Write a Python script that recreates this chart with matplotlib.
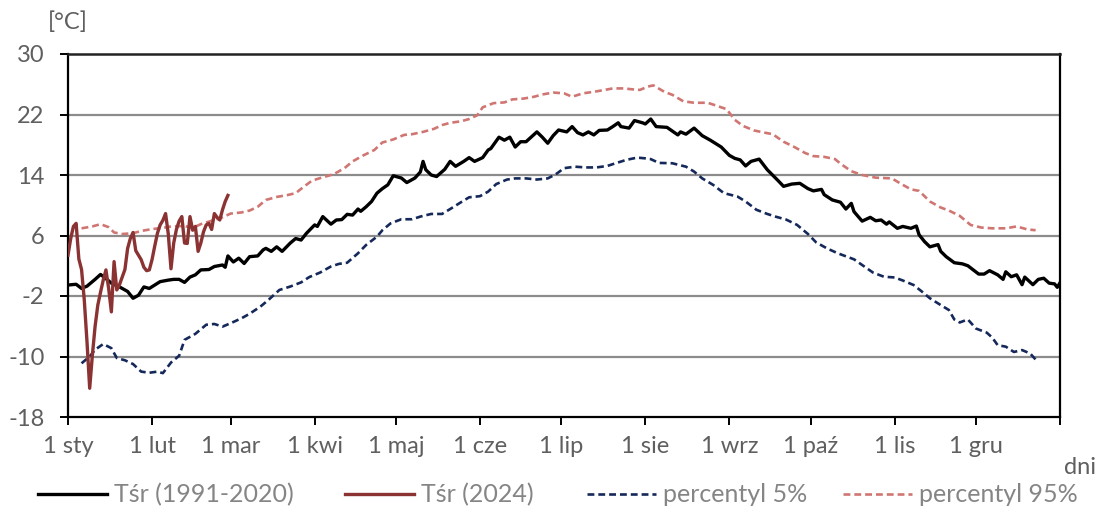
import matplotlib
matplotlib.use("Agg")
import matplotlib.pyplot as plt
from matplotlib.lines import Line2D

# ---------------- data (day of year, value in °C) ----------------
mean_days = [0, 3, 5, 7, 10, 12, 14, 16, 19, 22, 24, 26, 28, 30, 34, 37, 39, 41, 43, 45,
             47, 49, 52, 54, 57, 58, 59, 61, 63, 65, 67, 70, 72, 73, 75, 77, 79, 82, 84, 86,
             88, 91, 92, 94, 97, 99, 101, 103, 105, 107, 108, 110, 112, 114, 116, 118, 120, 123, 125, 128,
             130, 131, 132, 134, 136, 139, 141, 143, 146, 148, 150, 153, 155, 156, 159, 161, 163, 165, 167, 169,
             173, 175, 177, 179, 181, 184, 186, 188, 190, 192, 194, 196, 199, 201, 203, 204, 207, 209, 212, 213,
             215, 217, 221, 225, 226, 228, 231, 234, 237, 241, 244, 246, 248, 250, 252, 255, 258, 262, 264, 267,
             270, 273, 275, 278, 279, 282, 285, 287, 289, 290, 293, 296, 298, 300, 302, 303, 306, 308, 311, 313,
             314, 316, 318, 321, 322, 324, 327, 330, 332, 334, 336, 338, 340, 343, 345, 346, 348, 350, 352, 353,
             356, 358, 360, 362, 364, 365, 366]
mean_vals = [-0.55, -0.45, -1.0, -0.7, 0.2, 0.85, 0.3, -0.3, -0.8, -1.4, -2.3, -1.9, -0.8, -1.0, -0.1, 0.1, 0.2, 0.2, -0.2, 0.5,
             0.8, 1.45, 1.5, 1.9, 2.1, 1.8, 3.3, 2.5, 3.0, 2.3, 3.2, 3.3, 4.1, 4.3, 3.9, 4.5, 3.9, 5.0, 5.6, 5.4,
             6.3, 7.4, 7.2, 8.5, 7.5, 8.05, 8.1, 8.8, 8.7, 9.5, 9.2, 9.8, 10.5, 11.6, 12.2, 12.7, 13.9, 13.6, 13.0, 13.6,
             14.4, 15.8, 14.7, 14.0, 13.8, 14.75, 15.8, 15.15, 15.8, 16.3, 15.8, 16.3, 17.3, 17.5, 19.0, 18.6, 19.0, 17.7, 18.4, 18.4,
             19.7, 19.0, 18.2, 19.2, 19.95, 19.7, 20.4, 19.6, 19.3, 19.7, 19.3, 19.9, 19.95, 20.4, 20.9, 20.4, 20.2, 21.2, 20.9, 20.75,
             21.4, 20.4, 20.3, 19.3, 19.7, 19.4, 20.2, 19.2, 18.6, 17.7, 16.6, 16.2, 16.0, 15.2, 15.8, 16.1, 14.7, 13.25, 12.5, 12.8,
             12.9, 12.2, 11.9, 12.1, 11.4, 10.7, 10.4, 9.5, 10.25, 9.15, 7.9, 8.4, 7.95, 8.05, 7.5, 7.8, 6.95, 7.2, 6.95, 7.25,
             6.1, 5.2, 4.5, 4.8, 3.9, 3.2, 2.4, 2.25, 2.0, 1.45, 0.9, 0.9, 1.35, 0.8, 0.2, 1.2, 0.55, 0.8, -0.5, 0.5,
             -0.5, 0.2, 0.35, -0.3, -0.4, -0.85, -0.25]

y2024_days = list(range(0, 60))
y2024_vals = [3.4, 5.6, 7.2, 7.6, 2.9, 1.5, -2.5, -8.0, -14.2, -9.8,
              -6.0, -3.2, -1.5, 0.1, 1.45, -1.0, -4.1, 2.55, -1.2, -0.5,
              0.5, 1.5, 4.3, 5.6, 6.4, 4.0, 3.4, 2.8, 1.8, 1.35,
              1.45, 2.8, 4.6, 6.3, 7.4, 8.0, 8.9, 6.2, 1.6, 5.0,
              6.8, 7.9, 8.5, 5.0, 4.95, 8.5, 6.7, 7.2, 3.9, 5.0,
              6.5, 7.4, 7.6, 6.8, 8.9, 8.4, 8.05, 9.4, 10.5, 11.3]

p95_days = [5, 9, 12, 15, 17, 20, 24, 27, 31, 35, 38, 43, 46, 49, 53, 57, 60, 64, 67, 70,
            73, 77, 81, 84, 87, 90, 94, 98, 102, 105, 109, 113, 116, 120, 124, 127, 131, 135, 138, 141,
            145, 148, 151, 153, 157, 161, 164, 168, 172, 175, 179, 183, 186, 190, 194, 198, 201, 205, 209, 211,
            214, 216, 220, 223, 227, 231, 236, 239, 243, 246, 249, 253, 257, 260, 264, 268, 272, 275, 279, 283,
            285, 289, 293, 298, 304, 307, 311, 314, 318, 322, 325, 329, 333, 337, 341, 346, 350, 354, 357]
p95_vals = [6.95, 7.2, 7.5, 7.1, 6.4, 6.2, 6.3, 6.6, 6.85, 7.0, 7.2, 7.25, 7.0, 7.5, 7.95, 8.4, 8.9, 9.05, 9.3, 9.8,
            10.7, 11.1, 11.35, 11.6, 12.45, 13.25, 13.7, 14.1, 14.9, 15.8, 16.6, 17.3, 18.3, 18.7, 19.3, 19.4, 19.7, 20.1, 20.6, 20.9,
            21.1, 21.4, 21.9, 22.95, 23.5, 23.6, 24.0, 24.1, 24.35, 24.65, 24.9, 24.8, 24.35, 24.8, 25.0, 25.25, 25.45, 25.45, 25.3, 25.25,
            25.7, 25.85, 25.0, 24.6, 23.75, 23.55, 23.55, 23.2, 22.7, 21.3, 20.5, 19.9, 19.6, 19.4, 18.4, 17.7, 16.9, 16.5, 16.4, 16.1,
            15.5, 14.5, 14.0, 13.65, 13.55, 12.9, 12.1, 11.9, 10.5, 9.7, 9.3, 8.6, 7.4, 7.05, 6.95, 6.95, 7.2, 6.8, 6.7]

p5_days = [5, 8, 10, 13, 16, 18, 21, 24, 27, 30, 33, 35, 38, 41, 43, 47, 51, 54, 57, 60,
           64, 67, 71, 74, 78, 82, 86, 89, 93, 97, 100, 103, 107, 110, 114, 116, 119, 123, 127, 130,
           134, 138, 141, 145, 148, 152, 155, 158, 162, 165, 169, 173, 177, 180, 183, 187, 191, 195, 199, 202,
           206, 210, 213, 215, 218, 223, 228, 231, 234, 238, 242, 247, 250, 254, 258, 261, 265, 269, 273, 276,
           280, 284, 290, 293, 297, 301, 305, 308, 312, 315, 318, 322, 325, 327, 329, 332, 335, 339, 341, 343,
           346, 349, 352, 355, 357]
p5_vals = [-10.9, -10.0, -9.1, -8.35, -8.9, -10.2, -10.5, -11.0, -12.0, -12.15, -12.0, -12.2, -10.8, -9.9, -7.8, -7.0, -5.8, -5.7, -6.05, -5.6,
           -4.95, -4.35, -3.4, -2.5, -1.2, -0.75, -0.2, 0.5, 1.1, 1.9, 2.25, 2.4, 3.65, 4.75, 5.85, 6.7, 7.6, 8.15, 8.15, 8.5,
           8.85, 8.85, 9.5, 10.4, 11.05, 11.2, 11.8, 12.8, 13.4, 13.55, 13.55, 13.4, 13.55, 14.1, 14.9, 15.1, 15.0, 15.0, 15.2, 15.55,
           16.0, 16.3, 16.2, 16.1, 15.6, 15.55, 15.1, 14.45, 13.55, 12.7, 11.6, 11.15, 10.5, 9.4, 8.85, 8.5, 8.1, 7.4, 6.2, 5.1,
           4.3, 3.65, 2.85, 2.1, 1.1, 0.55, 0.45, 0.05, -0.55, -1.4, -2.3, -3.2, -3.85, -5.1, -5.5, -5.1, -6.3, -6.85, -7.5, -8.5,
           -8.7, -9.4, -9.15, -9.6, -10.4]

month_ticks = [0, 31, 60, 91, 121, 152, 182, 213, 244, 274, 305, 335, 366]
month_labels = ["1 sty", "1 lut", "1 mar", "1 kwi", "1 maj", "1 cze", "1 lip",
                "1 sie", "1 wrz", "1 paź", "1 lis", "1 gru", ""]
y_ticks = [-18, -10, -2, 6, 14, 22, 30]
y_labels = ["-18", "-10", "-2", "6", "14", "22", "30"]

series_labels = ["Tśr (1991-2020)", "Tśr (2024)", "percentyl 5%", "percentyl 95%"]

# ---------------- styling ----------------
plt.rcParams['font.family'] = ['Lato', 'DejaVu Sans']
plt.rcParams['axes.unicode_minus'] = False
FS = 17
FS_LEG = 18
TXT = '#5f5f5f'

C_MEAN = '#000000'
C_2024 = '#8B3333'
C_P5 = '#14285A'
C_P95 = '#D07672'
DASH = (0, (2.6, 1.5))

fig = plt.figure(figsize=(10.99, 5.09), dpi=100)
ax = fig.add_axes([68 / 1099, 1 - 417 / 509, (1060 - 68) / 1099, (417 - 54) / 509])

ax.plot(p95_days, p95_vals, color=C_P95, lw=1.9, ls=DASH, zorder=3)
ax.plot(p5_days, p5_vals, color=C_P5, lw=1.9, ls=DASH, zorder=3)
ax.plot(mean_days, mean_vals, color=C_MEAN, lw=2.4, zorder=4)
ax.plot(y2024_days, y2024_vals, color=C_2024, lw=2.4, zorder=5)

ax.set_xlim(0, 366)
ax.set_ylim(-18, 30)
ax.set_xticks(month_ticks)
ax.set_xticklabels(month_labels)
ax.set_yticks(y_ticks)
ax.set_yticklabels(y_labels)

for v in y_ticks[1:-1]:
    ax.axhline(v, color='#8c8c8c', lw=1.6, zorder=1)

for s in ['left', 'right', 'bottom']:
    ax.spines[s].set_color('black')
    ax.spines[s].set_linewidth(1.6)
ax.spines['top'].set_color('#222222')
ax.spines['top'].set_linewidth(1.8)

ax.tick_params(axis='y', direction='out', length=6, width=1.4, color='black',
               pad=11, labelsize=FS, labelcolor=TXT)
ax.tick_params(axis='x', direction='out', length=6, width=1.4, color='black',
               pad=8, labelsize=FS, labelcolor=TXT)

fig.text(68 / 1099, 1 - 22 / 509, "[°C]", fontsize=FS, color=TXT, ha='center', va='center')
fig.text(1080 / 1099, 1 - 467 / 509, "dni", fontsize=FS, color=TXT, ha='center', va='center')

# ---------------- legend ----------------
handles = [
    Line2D([], [], color=C_MEAN, lw=2.4),
    Line2D([], [], color=C_2024, lw=2.4),
    Line2D([], [], color=C_P5, lw=1.9, ls=DASH),
    Line2D([], [], color=C_P95, lw=1.9, ls=DASH),
]
x_starts = [38, 345, 587, 843]
for h, lab, xs in zip(handles, series_labels, x_starts):
    fig.legend(handles=[h], labels=[lab], loc='center left',
               bbox_to_anchor=(xs / 1099, 1 - 495 / 509), frameon=False,
               borderpad=0, borderaxespad=0, handlelength=2.75, handletextpad=0.3,
               prop={'size': FS_LEG}, labelcolor='#858585')

fig.savefig("out.png", dpi=100)
